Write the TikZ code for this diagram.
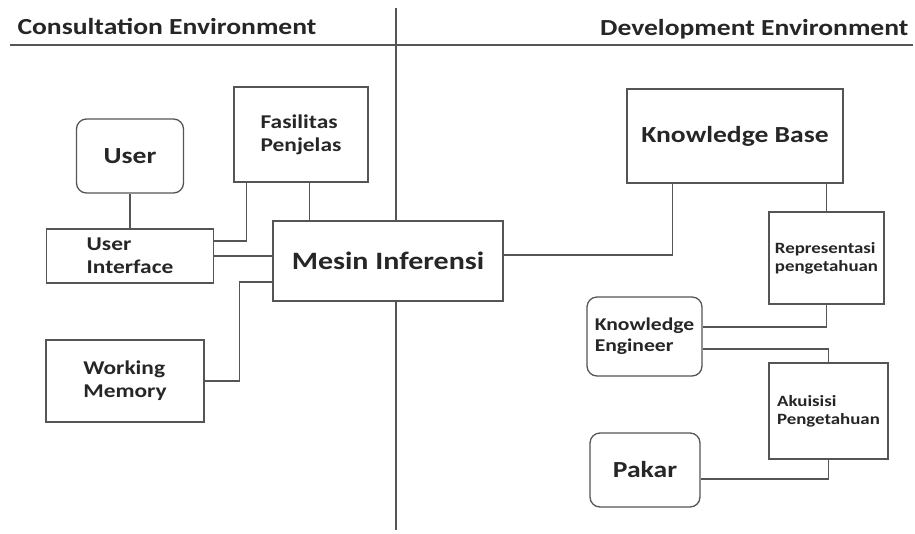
\documentclass[tikz,border=0pt]{standalone}
\usepackage{fontspec}
\setmainfont{Carlito}[FakeStretch=1.2]
\usepackage{tikz}
\usetikzlibrary{positioning}

\definecolor{linegray}{HTML}{555555}
\definecolor{textgray}{HTML}{262626}

\begin{document}
\begin{tikzpicture}[
    x=1pt, y=-1pt,
    box/.style={draw=linegray, line width=1.3pt, fill=white, inner sep=0pt, align=left, text=textgray, font=\bfseries},
    rbox/.style={box, rounded corners=10pt},
    big/.style={font=\fontsize{23}{26}\selectfont\bfseries},
    mid/.style={font=\fontsize{19.5}{23}\selectfont\bfseries},
    small/.style={font=\fontsize{15.7}{18}\selectfont\bfseries},
    wire/.style={draw=linegray, line width=1.3pt},
]
\useasboundingbox (0,0) rectangle (915,533);

% Headers and dividing lines
\node[anchor=base west, big, text=textgray] (cons) at (14,34) {Consultation Environment};
\node[anchor=base east, big, text=textgray] (dev) at (912,35) {Development Environment};
\coordinate (hl-left) at (10,45);
\coordinate (hl-right) at (913,45);
\draw[wire] (hl-left) -- (hl-right);

% Left: consultation side
\node[rbox, big, minimum width=107pt, minimum height=74pt] (user) at (130,156) {User};
\node[box, mid, minimum width=134pt, minimum height=95pt] (fas) at (301,134.5) {Fasilitas\\Penjelas};
\node[box, mid, minimum width=167pt, minimum height=54pt] (ui) at (130,256) {User\\Interface};
\node[box, font=\fontsize{25}{28}\selectfont\bfseries, minimum width=230pt, minimum height=80pt] (mesin) at (388,261) {Mesin Inferensi};
\node[box, mid, minimum width=158pt, minimum height=82pt] (wm) at (125,381) {Working\\Memory};

\draw[wire] (user.south) -- (ui.north);
\draw[wire] ([xshift=13pt]fas.south west) |- ([yshift=15pt]ui.east);
\draw[wire] ([xshift=76pt]fas.south west) coordinate (fas-out) -- (fas-out |- mesin.north);
\draw[wire] (ui.east) -- (ui.east -| mesin.west);
\draw[wire] (wm.east) -- ++(35,0) |- ([yshift=-21pt]mesin.west);

% Divider
\coordinate (div-top) at (396,8);
\coordinate (div-bot) at (396,530);
\draw[wire] (div-top) -- (div-top |- mesin.north);
\draw[wire] (div-bot) -- (div-bot |- mesin.south);

% Right: development side
\node[box, big, minimum width=216pt, minimum height=94pt] (kb) at (735,136) {Knowledge Base};
\node[box, small, minimum width=115pt, minimum height=92pt] (repr) at (826.5,258) {Representasi\\pengetahuan};
\node[rbox, font=\fontsize{18}{21}\selectfont\bfseries, minimum width=115pt, minimum height=79pt] (ke) at (644.5,336.5) {Knowledge\\Engineer};
\node[box, small, minimum width=119pt, minimum height=96pt] (aku) at (828.5,411) {Akuisisi\\Pengetahuan};
\node[rbox, big, minimum width=110pt, minimum height=74pt] (pakar) at (645,470) {Pakar};

\draw[wire] ([yshift=6pt]mesin.east) -| ([xshift=46pt]kb.south west);
\draw[wire] (repr.north) -- (repr.north |- kb.south);
\draw[wire] ([yshift=9.5pt]ke.east) -| (repr.south);
\draw[wire] ([yshift=-12.5pt]ke.east) -| (aku.north);
\draw[wire] ([yshift=-9pt]pakar.east) -| (aku.south);

\end{tikzpicture}
\end{document}
